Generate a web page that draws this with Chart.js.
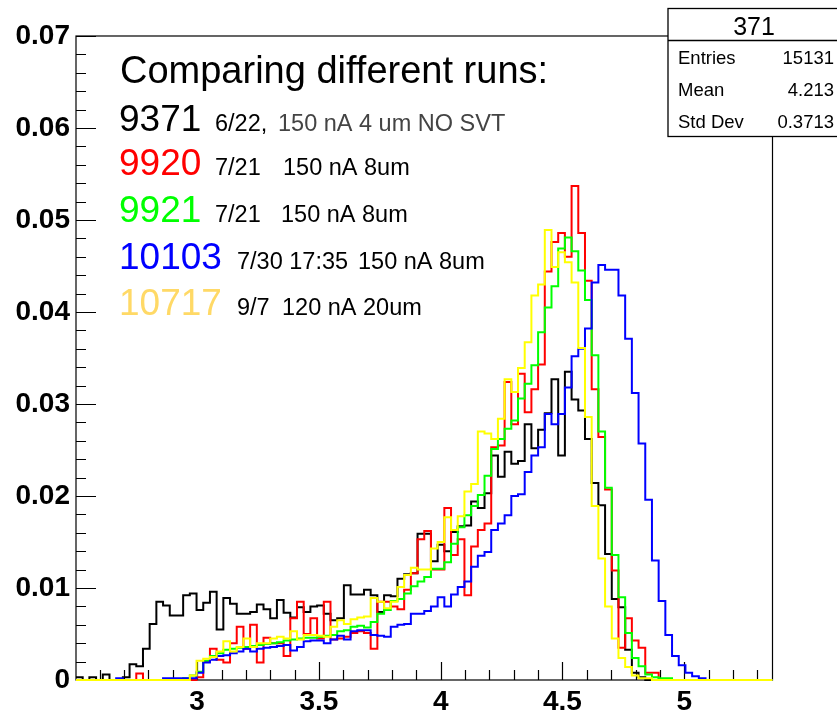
<!DOCTYPE html>
<html>
<head>
<meta charset="utf-8">
<script src="https://cdn.jsdelivr.net/npm/chart.js@4.4.1/dist/chart.umd.min.js"></script>
<style>
  html, body { margin: 0; padding: 0; background: #fff; }
  #wrap { width: 837px; height: 713px; }
</style>
</head>
<body>
<div id="wrap"><canvas id="myChart" width="837" height="713"></canvas></div>
<script>
/*  Comparing different runs  */

// histogram binning (bin i starts at binLow + i*binWidth)
const binLow = 2.5025;
const binWidth = 0.0275;
const xMin = 2.5025;
const xMax = 5.3625;

const run9371 = [
  0.0003, 0, 0.0003, 0, 0.0006, 0, 0, 0.0003, 0.0017, 0.0015,
  0.0034, 0.0061, 0.0085, 0.0081, 0.0070, 0.0070, 0.0092, 0.0094, 0.0076, 0.0084,
  0.0096, 0.0055, 0.0089, 0.0083, 0.0072, 0.0072, 0.0074, 0.0082, 0.0077, 0.0067,
  0.0087, 0.0073, 0.0068, 0.0079, 0.0074, 0.0080, 0.0081, 0.0072, 0.0065, 0.0067,
  0.0103, 0.0093, 0.0093, 0.0098, 0.0092, 0.0074, 0.0092, 0.0091, 0.0110, 0.0115,
  0.0116, 0.0159, 0.0159, 0.0129, 0.0147, 0.0140, 0.0161, 0.0167, 0.0168, 0.0194,
  0.0187, 0.0203, 0.0244, 0.0221, 0.0248, 0.0235, 0.0238, 0.0278, 0.0252, 0.0272,
  0.0290, 0.0327, 0.0244, 0.0335, 0.0305, 0.0293, 0.0262, 0.0214, 0.0190, 0.0137,
  0.0088, 0.0079, 0.0033, 0.0008, 0.0003, 0, 0, 0, 0, 0,
  0, 0, 0, 0, 0, 0, 0, 0, 0, 0,
  0, 0, 0, 0
];
const run9920 = [
  0, 0, 0, 0, 0, 0, 0, 0, 0, 0.0007,
  0, 0, 0, 0, 0, 0, 0, 0, 0.0003, 0.0020,
  0.0034, 0.0022, 0.0019, 0.0040, 0.0058, 0.0034, 0.0060, 0.0019, 0.0046, 0.0040,
  0.0040, 0.0026, 0.0067, 0.0085, 0.0050, 0.0067, 0.0045, 0.0085, 0.0044, 0.0045,
  0.0047, 0.0051, 0.0053, 0.0051, 0.0034, 0.0085, 0.0085, 0.0080, 0.0077, 0.0098,
  0.0116, 0.0153, 0.0162, 0.0120, 0.0120, 0.0187, 0.0136, 0.0153, 0.0092, 0.0145,
  0.0163, 0.0170, 0.0253, 0.0255, 0.0324, 0.0278, 0.0333, 0.0291, 0.0316, 0.0343,
  0.0444, 0.0476, 0.0486, 0.0460, 0.0537, 0.0486, 0.0434, 0.0316, 0.0264, 0.0207,
  0.0119, 0.0035, 0.0067, 0.0043, 0.0035, 0.0008, 0.0008, 0, 0, 0,
  0, 0, 0, 0, 0, 0, 0, 0, 0, 0,
  0, 0, 0, 0
];
const run9921 = [
  0, 0, 0, 0, 0, 0, 0, 0, 0, 0,
  0, 0, 0, 0, 0, 0, 0.0002, 0.0005, 0.0009, 0.0021,
  0.0026, 0.0029, 0.0033, 0.0034, 0.0035, 0.0036, 0.0037, 0.0038, 0.0039, 0.0040,
  0.0041, 0.0043, 0.0044, 0.0045, 0.0046, 0.0046, 0.0047, 0.0048, 0.0049, 0.0053,
  0.0054, 0.0058, 0.0059, 0.0057, 0.0063, 0.0072, 0.0076, 0.0086, 0.0088, 0.0094,
  0.0102, 0.0107, 0.0112, 0.0121, 0.0121, 0.0128, 0.0148, 0.0166, 0.0179, 0.0189,
  0.0201, 0.0222, 0.0251, 0.0262, 0.0273, 0.0282, 0.0306, 0.0322, 0.0342, 0.0378,
  0.0405, 0.0428, 0.0469, 0.0481, 0.0466, 0.0445, 0.0413, 0.0353, 0.0270, 0.0209,
  0.0136, 0.0090, 0.0051, 0.0024, 0.0015, 0.0006, 0.0003, 0.0002, 0.0002, 0,
  0, 0, 0, 0, 0, 0, 0, 0, 0, 0,
  0, 0, 0, 0
];
const run10103 = [
  0, 0, 0, 0, 0, 0, 0.0002, 0, 0, 0,
  0, 0, 0, 0.0002, 0.0002, 0.0002, 0.0002, 0.0002, 0.0008, 0.0019,
  0.0022, 0.0026, 0.0027, 0.0029, 0.0031, 0.0034, 0.0031, 0.0034, 0.0035, 0.0036,
  0.0037, 0.0038, 0.0032, 0.0036, 0.0042, 0.0043, 0.0043, 0.0040, 0.0044, 0.0048,
  0.0044, 0.0053, 0.0054, 0.0054, 0.0049, 0.0048, 0.0047, 0.0058, 0.0060, 0.0061,
  0.0072, 0.0072, 0.0075, 0.0080, 0.0090, 0.0080, 0.0093, 0.0101, 0.0107, 0.0123,
  0.0135, 0.0139, 0.0163, 0.0170, 0.0179, 0.0200, 0.0202, 0.0226, 0.0244, 0.0253,
  0.0289, 0.0278, 0.0289, 0.0318, 0.0352, 0.0360, 0.0382, 0.0432, 0.0451, 0.0446,
  0.0446, 0.0418, 0.0371, 0.0312, 0.0257, 0.0196, 0.0130, 0.0086, 0.0049, 0.0026,
  0.0016, 0.0008, 0.0004, 0.0002, 0, 0, 0, 0, 0, 0,
  0, 0, 0, 0
];
const run10717 = [
  0, 0, 0, 0, 0, 0, 0, 0, 0, 0,
  0, 0, 0, 0, 0, 0, 0, 0.0005, 0.0021, 0.0023,
  0.0025, 0.0031, 0.0042, 0.0031, 0.0036, 0.0045, 0.0036, 0.0040, 0.0040, 0.0045,
  0.0047, 0.0045, 0.0053, 0.0044, 0.0049, 0.0049, 0.0048, 0.0047, 0.0058, 0.0065,
  0.0061, 0.0066, 0.0068, 0.0069, 0.0089, 0.0085, 0.0078, 0.0085, 0.0101, 0.0114,
  0.0122, 0.0120, 0.0120, 0.0143, 0.0150, 0.0177, 0.0163, 0.0178, 0.0205, 0.0213,
  0.0270, 0.0268, 0.0262, 0.0284, 0.0327, 0.0313, 0.0339, 0.0367, 0.0418, 0.0430,
  0.0489, 0.0449, 0.0465, 0.0454, 0.0432, 0.0361, 0.0286, 0.0189, 0.0132, 0.0080,
  0.0045, 0.0024, 0.0014, 0.0005, 0.0002, 0.0002, 0, 0, 0, 0,
  0, 0, 0, 0, 0, 0, 0, 0, 0, 0,
  0, 0, 0, 0
];

const xTicks = [3, 3.5, 4, 4.5, 5];
const xTickLabels = ['3', '3.5', '4', '4.5', '5'];
const yTicks = [0, 0.01, 0.02, 0.03, 0.04, 0.05, 0.06, 0.07];
const yTickLabels = ['0', '0.01', '0.02', '0.03', '0.04', '0.05', '0.06', '0.07'];

const runNames = ['9371', '9920', '9921', '10103', '10717'];
const runDates = ['6/22,', '7/21', '7/21', '7/30 17:35', '9/7'];
const runNotes = ['150 nA 4 um NO SVT', '150 nA 8um', '150 nA 8um', '150 nA 8um', '120 nA 20um'];
const lineColors = ['#000000', '#ff0000', '#00ff00', '#0000ff', '#ffff00'];
const labelColors = ['#000000', '#ff0000', '#00ff00', '#0000ff', '#ffd966'];

const statTitle = '371';
const statNames = ['Entries', 'Mean', 'Std Dev'];
const statValues = ['15131', '4.213', '0.3713'];

const FONT = "'Liberation Sans', Arial, Helvetica, sans-serif";
Chart.defaults.font.family = FONT;

function toSteps(vals) {
  const pts = vals.map((v, i) => ({ x: binLow + i * binWidth, y: v }));
  pts.push({ x: binLow + vals.length * binWidth, y: vals[vals.length - 1] });
  return pts;
}

const series = [run9371, run9920, run9921, run10103, run10717];
// first dataset is painted last, so yellow goes on top
const datasets = [4, 3, 2, 1, 0].map(i => ({
  label: runNames[i],
  data: toSteps(series[i]),
  borderColor: lineColors[i],
  borderWidth: 2,
  stepped: 'before',
  pointRadius: 0,
  fill: false,
  clip: false
}));

const rootFrame = {
  id: 'rootFrame',
  beforeDatasetsDraw(chart) {
    const { ctx, chartArea: a, scales: { x, y } } = chart;
    ctx.save();
    ctx.strokeStyle = '#000';
    ctx.lineWidth = 1.2;
    ctx.strokeRect(a.left, a.top, a.right - a.left, a.bottom - a.top);
    ctx.beginPath();
    for (let k = 26; k <= 53; k++) {
      const px = Math.round(x.getPixelForValue(k / 10)) + 0.5;
      const len = k % 5 === 0 ? 18 : 10;
      ctx.moveTo(px, a.bottom);
      ctx.lineTo(px, a.bottom - len);
    }
    for (let k = 0; k <= 35; k++) {
      const py = Math.round(y.getPixelForValue(k * 0.002)) + 0.5;
      const len = k % 5 === 0 ? 20 : 10;
      ctx.moveTo(a.left, py);
      ctx.lineTo(a.left + len, py);
    }
    ctx.stroke();
    ctx.restore();
  },
  afterDatasetsDraw(chart) {
    const { ctx } = chart;
    ctx.save();
    // stats box
    ctx.fillStyle = '#fff';
    ctx.fillRect(668, 8.5, 180, 128);
    ctx.strokeStyle = '#000';
    ctx.lineWidth = 1.3;
    ctx.strokeRect(668, 8.5, 180, 128);
    ctx.beginPath();
    ctx.moveTo(668, 40.5);
    ctx.lineTo(840, 40.5);
    ctx.stroke();
    ctx.fillStyle = '#000';
    ctx.textBaseline = 'alphabetic';
    ctx.font = '25px ' + FONT;
    ctx.textAlign = 'center';
    ctx.fillText(statTitle, 754, 35);
    ctx.font = '18.5px ' + FONT;
    statNames.forEach((n, i) => {
      ctx.textAlign = 'left';
      ctx.fillText(n, 678, 64 + i * 32);
      ctx.textAlign = 'right';
      ctx.fillText(statValues[i], 834, 64 + i * 32);
    });

    // text block
    ctx.textAlign = 'left';
    ctx.font = '38px ' + FONT;
    ctx.fillText('Comparing different runs:', 120, 83);
    const baselines = [131, 175, 221.5, 269, 315];
    const dateX = [215, 215, 215, 237, 237];
    const noteX = [278, 283, 281, 358, 282];
    runNames.forEach((r, i) => {
      ctx.font = '37px ' + FONT;
      ctx.fillStyle = labelColors[i];
      ctx.fillText(r, 119, baselines[i]);
      ctx.font = '23.5px ' + FONT;
      ctx.fillStyle = '#000';
      ctx.fillText(runDates[i], dateX[i], baselines[i]);
      ctx.fillStyle = i === 0 ? '#444' : '#000';
      ctx.fillText(runNotes[i], noteX[i], baselines[i]);
    });
    ctx.restore();
  }
};

const ctx = document.getElementById('myChart').getContext('2d');
const myChart = new Chart(ctx, {
  type: 'line',
  data: { datasets: datasets },
  options: {
    responsive: false,
    devicePixelRatio: 1,
    animation: false,
    layout: { padding: { top: 36, right: 64.5, left: 0, bottom: 0 } },
    plugins: { legend: { display: false }, tooltip: { enabled: false } },
    elements: { line: { tension: 0 } },
    scales: {
      x: {
        type: 'linear',
        min: xMin,
        max: xMax,
        afterBuildTicks: s => { s.ticks = xTicks.map(v => ({ value: v })); },
        afterFit: s => { s.height = 33; },
        ticks: {
          callback: (v, i) => xTickLabels[i],
          font: { size: 28, weight: 'bold' },
          color: '#000',
          padding: 5,
          maxRotation: 0,
          autoSkip: false
        },
        grid: { display: false, drawTicks: false },
        border: { display: false }
      },
      y: {
        type: 'linear',
        min: 0,
        max: 0.07,
        afterBuildTicks: s => { s.ticks = yTicks.map(v => ({ value: v })); },
        afterFit: s => { s.width = 76; },
        ticks: {
          callback: (v, i) => yTickLabels[i],
          font: { size: 28, weight: 'bold' },
          color: '#000',
          padding: 6
        },
        grid: { display: false, drawTicks: false },
        border: { display: false }
      }
    }
  },
  plugins: [rootFrame]
});
</script>
</body>
</html>
